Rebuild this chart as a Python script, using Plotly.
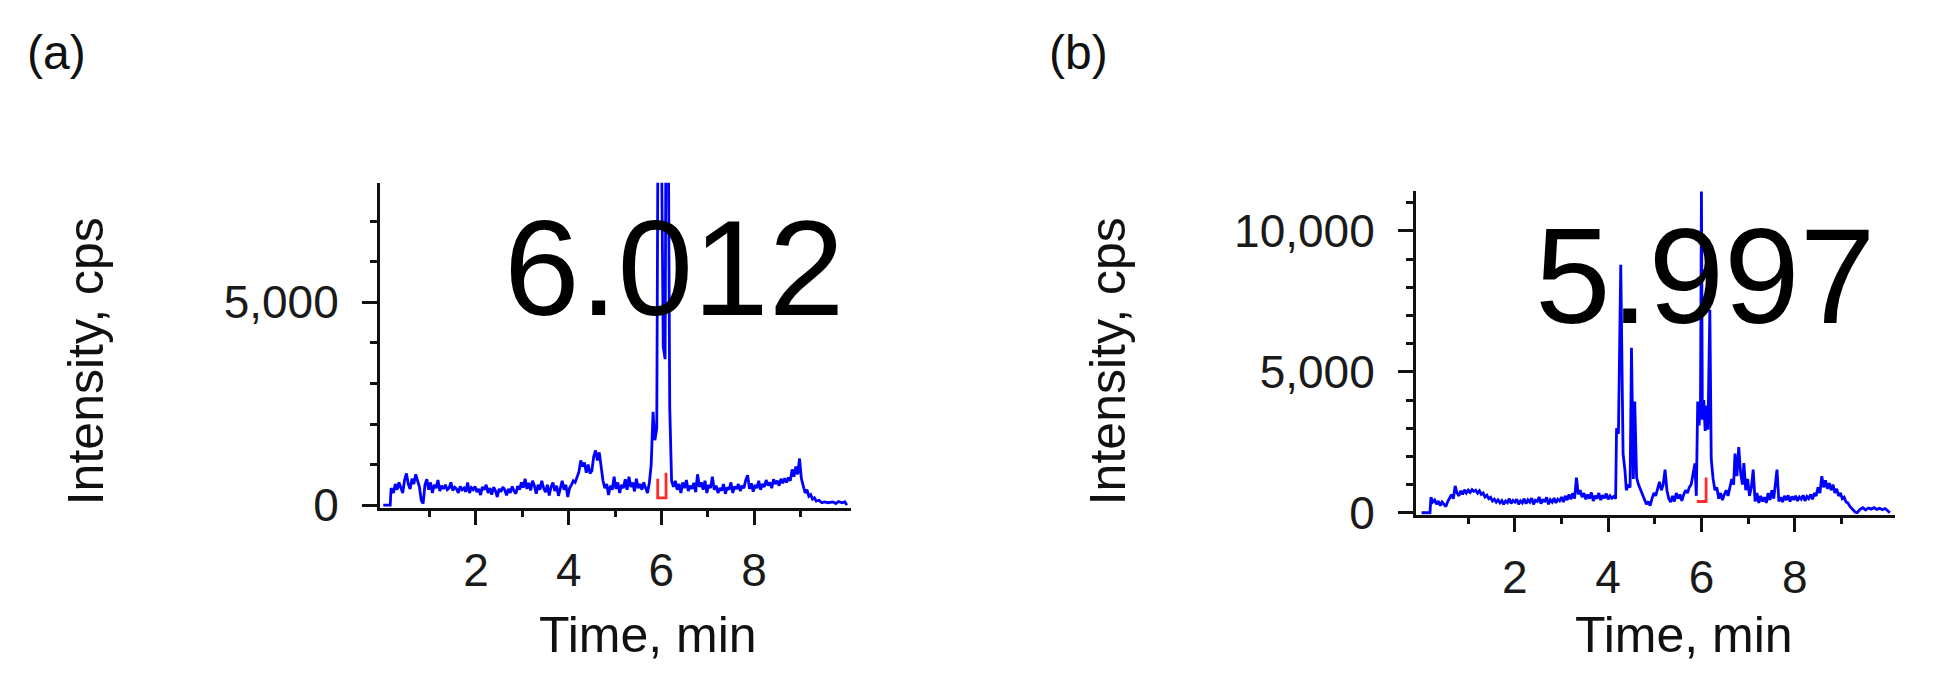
import plotly.graph_objects as go

# chromatogram (a): time in min, intensity in cps
time_a = [0.00, 0.10, 0.15, 0.17, 0.22, 0.26, 0.30, 0.34, 0.38, 0.42, 0.46, 0.50, 0.54, 0.58, 0.62, 0.66,
          0.70, 0.74, 0.78, 0.82, 0.86, 0.90, 0.94, 0.98, 1.02, 1.06, 1.10, 1.14, 1.18, 1.22, 1.26, 1.30,
          1.34, 1.38, 1.42, 1.46, 1.50, 1.54, 1.58, 1.62, 1.66, 1.70, 1.74, 1.78, 1.82, 1.86, 1.90, 1.94,
          1.98, 2.02, 2.06, 2.10, 2.14, 2.18, 2.22, 2.26, 2.30, 2.34, 2.38, 2.42, 2.46, 2.50, 2.54, 2.58,
          2.62, 2.66, 2.70, 2.74, 2.78, 2.82, 2.86, 2.90, 2.94, 2.98, 3.02, 3.06, 3.10, 3.14, 3.18, 3.22,
          3.26, 3.30, 3.34, 3.38, 3.42, 3.46, 3.50, 3.54, 3.58, 3.62, 3.66, 3.70, 3.74, 3.78, 3.82, 3.86,
          3.90, 3.94, 3.98, 4.02, 4.06, 4.10, 4.14, 4.18, 4.22, 4.26, 4.30, 4.34, 4.38, 4.42, 4.46, 4.50,
          4.54, 4.58, 4.62, 4.66, 4.70, 4.74, 4.78, 4.82, 4.86, 4.90, 4.94, 4.98, 5.02, 5.06, 5.10, 5.14,
          5.18, 5.22, 5.26, 5.30, 5.34, 5.38, 5.42, 5.46, 5.50, 5.54, 5.58, 5.62, 5.66, 5.70, 5.74, 5.78,
          5.82, 5.86, 5.90, 5.95, 6.04, 6.08, 6.12, 6.18, 6.22, 6.26, 6.30, 6.34, 6.38, 6.42, 6.46, 6.50,
          6.54, 6.58, 6.62, 6.66, 6.70, 6.74, 6.78, 6.82, 6.86, 6.90, 6.94, 6.98, 7.02, 7.06, 7.10, 7.14,
          7.18, 7.22, 7.26, 7.30, 7.34, 7.38, 7.42, 7.46, 7.50, 7.54, 7.58, 7.62, 7.66, 7.70, 7.74, 7.78,
          7.82, 7.86, 7.90, 7.94, 7.98, 8.02, 8.06, 8.10, 8.14, 8.18, 8.22, 8.26, 8.30, 8.34, 8.38, 8.42,
          8.46, 8.50, 8.54, 8.58, 8.62, 8.66, 8.70, 8.74, 8.78, 8.82, 8.86, 8.90, 8.94, 8.98, 9.02, 9.06,
          9.10, 9.14, 9.18, 9.22, 9.26, 9.30, 9.34, 9.40, 9.46, 9.52, 9.60, 9.70, 9.76, 9.82, 9.90, 9.96,
          10.00]
intensity_a = [0, 0, 0, 420, 300, 520, 380, 560, 420, 300, 620, 780, 520, 400, 650, 520,
               760, 600, 450, 120, 40, 500, 640, 380, 560, 300, 500, 420, 620, 350, 480, 400,
               500, 380, 420, 560, 360, 440, 400, 300, 460, 380, 420, 330, 560, 300, 430, 380,
               460, 320, 400, 250, 450, 380, 500, 300, 420, 260, 440, 360, 200, 400, 330, 450,
               380, 240, 400, 300, 460, 350, 280, 470, 380, 560, 430, 650, 400, 550, 360, 600,
               480, 280, 500, 380, 600, 420, 320, 500, 240, 450, 560, 350, 480, 230, 460, 600,
               380, 500, 200, 420, 500, 600, 560, 700, 820, 1100, 950, 1050, 800, 1000, 780, 850,
               1200, 1350, 1100, 1300, 900, 600, 420, 520, 250, 480, 380, 700, 400, 560, 300, 500,
               420, 640, 380, 700, 450, 560, 340, 650, 420, 520, 380, 560, 420, 300, 550, 1000,
               2300, 1600, 1900, 16000, 3900, 3600, 16000, 2400, 600, 450, 600, 380, 520, 300, 560, 420,
               620, 350, 480, 400, 550, 320, 760, 450, 560, 380, 600, 300, 500, 420, 700, 380,
               480, 300, 420, 360, 520, 280, 440, 380, 560, 300, 460, 400, 520, 350, 480, 420,
               620, 740, 400, 540, 330, 500, 420, 600, 380, 520, 450, 620, 480, 560, 420, 640,
               520, 600, 480, 650, 540, 660, 560, 680, 600, 880, 700, 950, 760, 1150, 650, 500,
               300, 380, 220, 260, 150, 180, 100, 120, 60, 80, 60, 80, 40, 90, 60, 80,
               0]

# chromatogram (b)
time_b = [0.00, 0.10, 0.18, 0.20, 0.24, 0.28, 0.32, 0.36, 0.40, 0.44, 0.48, 0.52, 0.56, 0.60, 0.64, 0.68,
          0.72, 0.76, 0.80, 0.84, 0.88, 0.92, 0.96, 1.00, 1.04, 1.08, 1.12, 1.16, 1.20, 1.24, 1.28, 1.32,
          1.36, 1.40, 1.44, 1.48, 1.52, 1.56, 1.60, 1.64, 1.68, 1.72, 1.76, 1.80, 1.84, 1.88, 1.92, 1.96,
          2.00, 2.04, 2.08, 2.12, 2.16, 2.20, 2.24, 2.28, 2.32, 2.36, 2.40, 2.44, 2.48, 2.52, 2.56, 2.60,
          2.64, 2.68, 2.72, 2.76, 2.80, 2.84, 2.88, 2.92, 2.96, 3.00, 3.04, 3.08, 3.12, 3.16, 3.20, 3.24,
          3.28, 3.32, 3.36, 3.40, 3.44, 3.48, 3.52, 3.56, 3.60, 3.64, 3.68, 3.72, 3.76, 3.80, 3.84, 3.88,
          3.92, 3.96, 4.00, 4.04, 4.08, 4.12, 4.16, 4.18, 4.22, 4.27, 4.32, 4.36, 4.39, 4.43, 4.47, 4.50,
          4.54, 4.57, 4.61, 4.65, 4.70, 4.74, 4.78, 4.82, 4.86, 4.90, 4.94, 4.98, 5.02, 5.06, 5.10, 5.14,
          5.18, 5.22, 5.26, 5.30, 5.34, 5.38, 5.42, 5.46, 5.50, 5.54, 5.58, 5.62, 5.66, 5.70, 5.74, 5.78,
          5.82, 5.86, 5.89, 5.92, 5.95, 5.98, 6.00, 6.02, 6.05, 6.08, 6.11, 6.14, 6.18, 6.21, 6.25, 6.29,
          6.33, 6.37, 6.41, 6.45, 6.49, 6.53, 6.57, 6.61, 6.65, 6.69, 6.72, 6.76, 6.80, 6.84, 6.88, 6.91,
          6.95, 6.99, 7.03, 7.07, 7.11, 7.15, 7.19, 7.23, 7.27, 7.31, 7.35, 7.39, 7.43, 7.47, 7.51, 7.55,
          7.59, 7.62, 7.66, 7.70, 7.74, 7.78, 7.82, 7.86, 7.90, 7.94, 7.98, 8.02, 8.06, 8.10, 8.14, 8.18,
          8.22, 8.26, 8.30, 8.34, 8.38, 8.42, 8.46, 8.50, 8.54, 8.58, 8.62, 8.66, 8.70, 8.74, 8.78, 8.82,
          8.86, 8.90, 8.94, 8.98, 9.02, 9.06, 9.10, 9.14, 9.18, 9.22, 9.26, 9.30, 9.34, 9.40, 9.46, 9.52,
          9.58, 9.64, 9.70, 9.76, 9.82, 9.88, 9.94, 10.00, 10.04]
intensity_b = [0, 0, 0, 550, 380, 450, 300, 420, 250, 380, 300, 220, 400, 500, 640, 500,
               950, 700, 600, 780, 650, 820, 700, 800, 720, 820, 760, 800, 700, 780, 650, 700,
               560, 620, 500, 550, 420, 480, 380, 460, 350, 430, 300, 420, 360, 500, 330, 440,
               380, 480, 300, 420, 350, 500, 320, 460, 380, 520, 300, 440, 400, 560, 320, 480,
               380, 550, 300, 460, 380, 520, 350, 480, 420, 560, 380, 600, 450, 650, 480, 700,
               500, 1250, 650, 800, 550, 700, 480, 650, 500, 720, 420, 600, 500, 700, 450, 620,
               520, 680, 480, 600, 520, 580, 500, 3000, 2800, 8800, 2100, 1500, 800, 1000, 900, 5850,
               1200, 3950, 1250, 1000, 800, 600, 450, 300, 400, 250, 500, 700, 600, 900, 1100, 800,
               1000, 1530, 800, 500, 380, 600, 400, 700, 500, 650, 420, 650, 800, 700, 900, 1000,
               1400, 1750, 600, 3950, 3100, 4000, 11450, 3300, 4000, 2900, 3800, 2950, 7200, 1900, 1200, 800,
               900, 500, 700, 450, 650, 800, 600, 900, 1200, 1000, 2100, 1300, 2330, 1400, 1000, 1760,
               800, 1200, 600, 900, 1530, 400, 700, 350, 600, 400, 550, 350, 700, 450, 800, 500,
               1000, 1530, 400, 550, 380, 600, 450, 620, 400, 580, 460, 600, 420, 560, 480, 620,
               420, 580, 500, 650, 480, 700, 600, 900, 700, 1300, 900, 1150, 850, 1050, 800, 1000,
               700, 850, 600, 700, 500, 550, 380, 350, 230, 150, 80, 20, 0, 120, 180, 100,
               170, 130, 180, 120, 160, 110, 150, 60, 0]

# red integration markers under the main peaks
mark_time_a = [5.92, 5.92, 6.10, 6.10]
mark_int_a = [650, 180, 180, 800]
mark_time_b = [5.93, 5.93, 6.10, 6.10]
mark_int_b = [450, 400, 400, 1250]

rt_labels = ["6.012", "5.997"]
panel_labels = ["(a)", "(b)"]

W, H = 1934, 690
FONT = "Liberation Sans, Arial, sans-serif"


def px(x, y):
    return x / W, 1 - y / H


fig = go.Figure()
fig.add_trace(go.Scatter(x=time_a, y=intensity_a, mode="lines", line=dict(color="#0000ff", width=2.8),
                         xaxis="x", yaxis="y"))
fig.add_trace(go.Scatter(x=mark_time_a, y=mark_int_a, mode="lines", line=dict(color="#ff2a2a", width=2.8),
                         xaxis="x", yaxis="y"))
fig.add_trace(go.Scatter(x=time_b, y=intensity_b, mode="lines", line=dict(color="#0000ff", width=2.8),
                         xaxis="x2", yaxis="y2"))
fig.add_trace(go.Scatter(x=mark_time_b, y=mark_int_b, mode="lines", line=dict(color="#ff2a2a", width=2.8),
                         xaxis="x2", yaxis="y2"))

xcommon = dict(showline=True, linecolor="#111", linewidth=3, ticks="outside", ticklen=14, tickwidth=3,
               tickcolor="#111", tickvals=[2, 4, 6, 8], showgrid=False, zeroline=False,
               tickfont=dict(family=FONT, size=46, color="#1a1a1a"), ticklabelstandoff=6,
               minor=dict(tickvals=[1, 3, 5, 7, 9], ticklen=6, tickwidth=3, tickcolor="#111", ticks="outside"))
ycommon = dict(showline=True, linecolor="#111", linewidth=3, ticks="outside", ticklen=15, tickwidth=3,
               tickcolor="#111", showgrid=False, zeroline=False, tickformat=",d",
               tickfont=dict(family=FONT, size=46, color="#1a1a1a"), ticklabelstandoff=14)

fig.update_layout(
    width=W, height=H, margin=dict(l=0, r=0, t=0, b=0),
    paper_bgcolor="white", plot_bgcolor="white", showlegend=False,
    xaxis=dict(xcommon, domain=[372 / W, 843 / W], range=[-0.07, 10.09], anchor="y"),
    yaxis=dict(ycommon, domain=[1 - 518 / H, 1 - 181 / H], range=[-70, 7950], anchor="x",
               tickvals=[0, 5000],
               minor=dict(tickvals=[1000, 2000, 3000, 4000, 6000, 7000], ticklen=7, tickwidth=3,
                          tickcolor="#111", ticks="outside")),
    xaxis2=dict(xcommon, domain=[1408 / W, 1887 / W], range=[-0.12, 10.15], anchor="y2"),
    yaxis2=dict(ycommon, domain=[1 - 525 / H, 1 - 190 / H], range=[-70, 11400], anchor="x2",
                tickvals=[0, 5000, 10000],
                minor=dict(tickvals=[1000, 2000, 3000, 4000, 6000, 7000, 8000, 9000, 11000], ticklen=7,
                           tickwidth=3, tickcolor="#111", ticks="outside")),
)

# text placed in pixel positions of the original figure
texts = [
    (panel_labels[0], 48, 46, 48, 0),
    (panel_labels[1], 1070, 46, 48, 0),
    (rt_labels[0], 666, 269, 136, 0),
    (rt_labels[1], 1697, 278, 136, 0),
    ("Intensity, cps", 78, 366, 50, -90),
    ("Intensity, cps", 1100, 366, 50, -90),
    ("Time, min", 640, 650, 50, 0),
    ("Time, min", 1676, 650, 50, 0),
]
for txt, x, y, size, angle in texts:
    ax, ay = px(x, y)
    fig.add_annotation(text=txt, x=ax, y=ay, xref="paper", yref="paper", showarrow=False,
                       xanchor="center", yanchor="middle", textangle=angle,
                       font=dict(family=FONT, size=size, color="black" if size > 100 else "#111"))

fig.write_html("out.html")
